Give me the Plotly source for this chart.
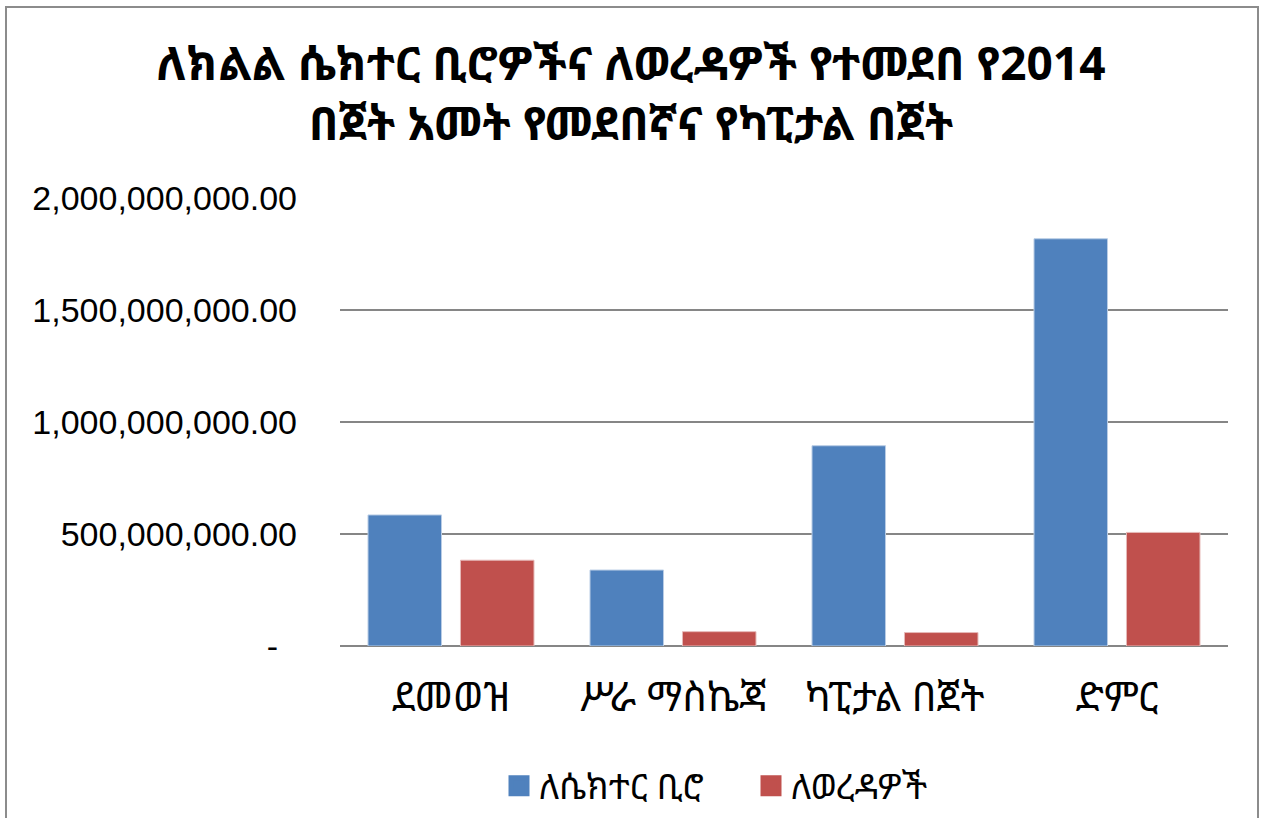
import plotly.graph_objects as go

categories = ["ደመወዝ", "ሥራ ማስኬጃ", "ካፒታል በጀት", "ድምር"]
series_names = ["ለሴክተር ቢሮ", "ለወረዳዎች"]
series_colors = ["#4F81BD", "#C0504D"]
sector_bureau = [585_000_000, 339_000_000, 894_000_000, 1_818_000_000]
woredas = [383_000_000, 64_000_000, 60_000_000, 507_000_000]
y_tickvals = [0, 500_000_000, 1_000_000_000, 1_500_000_000, 2_000_000_000]
y_ticktext = ["-\u00a0\u00a0", "500,000,000.00", "1,000,000,000.00", "1,500,000,000.00", "2,000,000,000.00"]
title_text = "ለክልል ሴክተር ቢሮዎችና ለወረዳዎች የተመደበ የ2014<br>በጀት አመት የመደበኛና የካፒታል በጀት"

W, H = 1262, 818
L, R, T, B = 340, 34, 198, 172
pw, ph = W - L - R, H - T - B

fig = go.Figure()
fig.add_trace(go.Bar(x=categories, y=sector_bureau, name=series_names[0], showlegend=False,
                     marker=dict(color=series_colors[0], line=dict(color="#B9CDE5", width=1))))
fig.add_trace(go.Bar(x=categories, y=woredas, name=series_names[1], showlegend=False,
                     marker=dict(color=series_colors[1], line=dict(color="#E6B9B8", width=1))))
# legend entries with larger square swatches
for nm, col in zip(series_names, series_colors):
    fig.add_trace(go.Scatter(x=[None], y=[None], mode="markers", name=nm,
                             marker=dict(symbol="square", size=22, color=col,
                                         line=dict(color=col, width=5))))

def px_x(px):
    return (px - L) / pw

def px_y(py):
    return (H - B - py) / ph

fig.update_layout(
    width=W, height=H,
    margin=dict(l=L, r=R, t=T, b=B, autoexpand=False),
    paper_bgcolor="white", plot_bgcolor="white",
    barmode="group", bargap=0.167, bargroupgap=0.205,
    font=dict(family="Noto Sans Ethiopic, Abyssinica SIL, DejaVu Sans, Liberation Sans", color="black"),
    title=dict(text=title_text, x=0.5, xref="container", xanchor="center",
               y=1 - 80 / H, yref="container", yanchor="middle",
               font=dict(size=46, color="black", weight="bold")),
    xaxis=dict(showgrid=False, showline=False, ticks="", tickfont=dict(size=40),
               ticklabelstandoff=24),
    yaxis=dict(range=[0, 2_000_000_000], tickvals=y_tickvals, ticktext=y_ticktext,
               showgrid=True, gridcolor="#868686", gridwidth=2,
               zeroline=True, zerolinecolor="#868686", zerolinewidth=2,
               showline=False, ticks="", ticklabelstandoff=42,
               tickfont=dict(size=34, family="Liberation Sans, Arial")),
    legend=dict(orientation="h", x=px_x(499), xanchor="left", y=px_y(786), yanchor="middle",
                font=dict(size=35), itemwidth=30, traceorder="normal",
                entrywidth=207, entrywidthmode="pixels"),
    shapes=[dict(type="rect", xref="paper", yref="paper",
                 x0=px_x(6), x1=px_x(1258), y0=px_y(830), y1=px_y(7),
                 line=dict(color="#8C8C8C", width=2), fillcolor="rgba(0,0,0,0)", layer="below")],
)

fig.write_html("out.html", post_script="document.body.style.margin='0';",
               config={"displayModeBar": False})
